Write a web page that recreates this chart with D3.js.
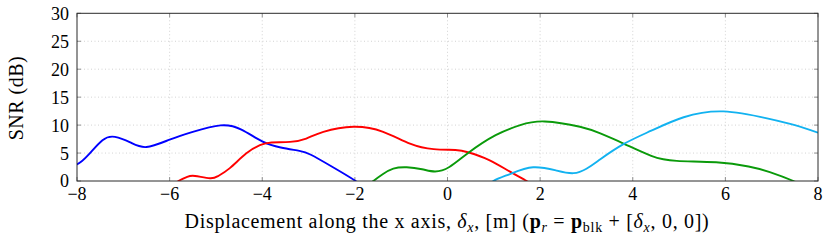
<!DOCTYPE html>
<html><head><meta charset="utf-8">
<script src="https://cdn.jsdelivr.net/npm/d3@7"></script>
<style>body{margin:0;background:#fff}svg{display:block}</style>
</head><body><svg id="c" width="831" height="243"></svg>
<script>
const xTicks = [-8,-6,-4,-2,0,2,4,6,8];
const yTicks = [0,5,10,15,20,25,30];
const blue = [[-8.2,3.3],[-8,3.0],[-7.75,4.7],[-7.45,7.3],[-7.18,7.9],[-6.85,6.9],[-6.5,6.07],[-6,7.4],[-5.5,8.8],[-4.9,9.95],[-4.45,9.2],[-4,7.1],[-3.6,6.0],[-3.2,5.4],[-2.95,4.7],[-2.5,2.6],[-2,0.1],[-1.8,-1.2]];
const red = [[-6.0,-1.2],[-5.81,0],[-5.62,0.75],[-5.45,0.9],[-5.13,0.5],[-4.95,0.9],[-4.7,2.3],[-4.35,4.9],[-4.05,6.4],[-3.8,6.9],[-3.4,7.0],[-3.05,7.6],[-2.68,8.8],[-2.03,9.7],[-1.39,8.8],[-0.81,6.7],[-0.3,5.7],[0.17,5.55],[0.46,5.1],[0.9,3.75],[1.35,1.67],[1.71,0],[1.9,-1.2]];
const green = [[-1.8,-1.3],[-1.6,0],[-1.4,1.2],[-1.17,2.2],[-0.88,2.45],[-0.55,2.1],[-0.27,1.7],[0.04,2.5],[0.46,5.1],[1.04,8.2],[1.57,10.0],[2.1,10.65],[2.86,9.7],[3.3,8.5],[3.8,6.7],[4.4,4.5],[4.95,3.6],[5.8,3.35],[6.5,2.6],[6.96,1.6],[7.47,0],[7.7,-1.0]];
const cyan = [[0.8,-1.3],[0.99,0],[1.35,1.25],[1.85,2.45],[2.36,1.85],[2.72,1.4],[3.0,2.2],[3.3,3.9],[3.8,6.6],[4.4,9.0],[5.1,11.4],[5.96,12.45],[6.9,11.2],[7.5,10.0],[8,8.65]];
const series = [
  {data: blue, color: "#0000ff"},
  {data: red, color: "#ff0000"},
  {data: green, color: "#0a9a0a"},
  {data: cyan, color: "#12b2f0"}
];

const svg = d3.select("#c");
const L = 77, R = 818, T = 13.3, B = 181;
const x = d3.scaleLinear().domain([-8,8]).range([L,R]);
const y = d3.scaleLinear().domain([0,30]).range([B,T]);
const font = "'Liberation Serif','DejaVu Serif',serif";

svg.append("defs").append("clipPath").attr("id","clip")
  .append("rect").attr("x",L).attr("y",T).attr("width",R-L).attr("height",B-T);

// grid
const g = svg.append("g");
g.selectAll(".gx").data(xTicks.slice(1,-1)).join("line")
  .attr("x1",d=>x(d)).attr("x2",d=>x(d)).attr("y1",T).attr("y2",B)
  .attr("stroke","#c8c8c8").attr("stroke-width",0.8).attr("stroke-dasharray","1,2.5");
g.selectAll(".gy").data(yTicks.slice(1,-1)).join("line")
  .attr("y1",d=>y(d)).attr("y2",d=>y(d)).attr("x1",L).attr("x2",R)
  .attr("stroke","#c8c8c8").attr("stroke-width",0.8).attr("stroke-dasharray","1,2.5");

// inner ticks on all sides
const tl = 4;
const tk = svg.append("g").attr("stroke","#777").attr("stroke-width",0.8);
xTicks.forEach(d=>{
  tk.append("line").attr("x1",x(d)).attr("x2",x(d)).attr("y1",B).attr("y2",B-tl);
  tk.append("line").attr("x1",x(d)).attr("x2",x(d)).attr("y1",T).attr("y2",T+tl);
});
yTicks.forEach(d=>{
  tk.append("line").attr("y1",y(d)).attr("y2",y(d)).attr("x1",L).attr("x2",L+tl);
  tk.append("line").attr("y1",y(d)).attr("y2",y(d)).attr("x1",R).attr("x2",R-tl);
});

// curves
const line = d3.line().x(d=>x(d[0])).y(d=>y(d[1])).curve(d3.curveNatural);
const cg = svg.append("g").attr("clip-path","url(#clip)");
series.forEach(s=>{
  cg.append("path").attr("d",line(s.data)).attr("fill","none")
    .attr("stroke",s.color).attr("stroke-width",1.9).attr("stroke-linejoin","round");
});

// frame
svg.append("rect").attr("x",L).attr("y",T).attr("width",R-L).attr("height",B-T)
  .attr("fill","none").attr("stroke","#2a2a2a").attr("stroke-width",1);

// tick labels
svg.append("g").selectAll("text").data(xTicks).join("text")
  .attr("x",d=>x(d)).attr("y",200).attr("text-anchor","middle")
  .attr("font-family",font).attr("font-size",18).attr("fill","#000")
  .text(d=>d<0?"\u2212"+Math.abs(d):d);
svg.append("g").selectAll("text").data(yTicks).join("text")
  .attr("x",69).attr("y",d=>y(d)).attr("dy","0.36em").attr("text-anchor","end")
  .attr("font-family",font).attr("font-size",18).attr("fill","#000")
  .text(d=>d);

// y label
svg.append("text").attr("transform","translate(23,98) rotate(-90)")
  .attr("text-anchor","middle").attr("font-family",font).attr("font-size",20)
  .attr("letter-spacing",0.5)
  .text("SNR (dB)");

// x label
const xl = svg.append("text").attr("x",447).attr("y",228).attr("text-anchor","middle")
  .attr("font-family",font).attr("font-size",20).attr("letter-spacing",0.7);
const parts = [
  ["Displacement along the x axis, ",{}],
  ["\u03b4",{style:"italic"}],["x",{style:"italic",sub:true}],
  [", [m] (",{}],
  ["p",{weight:"bold"}],["r",{style:"italic",sub:true}],
  [" = ",{}],
  ["p",{weight:"bold"}],["blk",{sub:true}],
  [" + [",{}],
  ["\u03b4",{style:"italic"}],["x",{style:"italic",sub:true}],
  [", 0, 0])",{}]
];
let prevSub=false;
parts.forEach(([t,o])=>{
  const ts = xl.append("tspan").text(t);
  if(o.style) ts.attr("font-style",o.style);
  if(o.weight) ts.attr("font-weight",o.weight);
  if(o.sub){ ts.attr("font-size",14).attr("dy",prevSub?0:4); prevSub=true; }
  else { if(prevSub) ts.attr("dy",-4); prevSub=false; }
});
</script></body></html>
